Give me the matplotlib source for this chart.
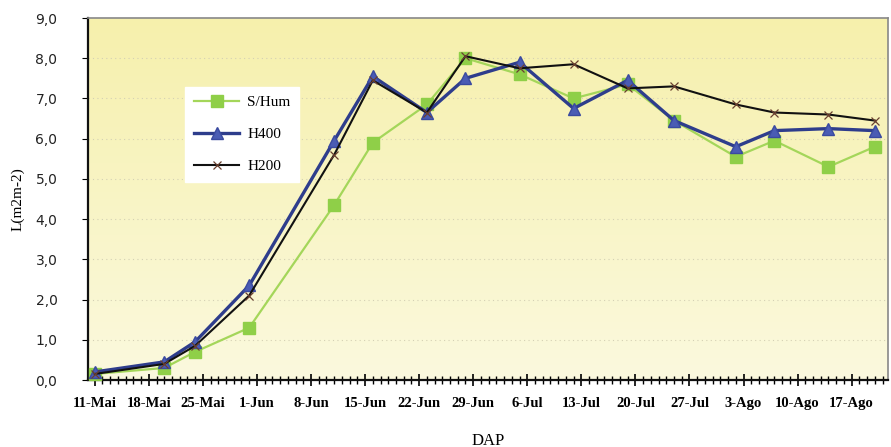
import datetime as dt

import matplotlib
matplotlib.use("Agg")
import matplotlib.pyplot as plt
import matplotlib.dates as mdates
import numpy as np

# datas de amostragem
datas = ["2005-05-11", "2005-05-20", "2005-05-24", "2005-05-31", "2005-06-11",
         "2005-06-16", "2005-06-23", "2005-06-28", "2005-07-05", "2005-07-12",
         "2005-07-19", "2005-07-25", "2005-08-02", "2005-08-07", "2005-08-14",
         "2005-08-20"]

s_hum = [0.15, 0.3, 0.7, 1.3, 4.35, 5.9, 6.85, 8.0, 7.6, 7.0, 7.35, 6.45, 5.55, 5.95, 5.3, 5.8]
h400 = [0.2, 0.45, 0.95, 2.35, 5.95, 7.55, 6.65, 7.5, 7.9, 6.75, 7.45, 6.45, 5.8, 6.2, 6.25, 6.2]
h200 = [0.15, 0.4, 0.85, 2.1, 5.6, 7.45, 6.65, 8.05, 7.75, 7.85, 7.25, 7.3, 6.85, 6.65, 6.6, 6.45]

meses = {5: "Mai", 6: "Jun", 7: "Jul", 8: "Ago"}

x = [dt.datetime.strptime(d, "%Y-%m-%d") for d in datas]

fig = plt.figure(figsize=(8.91, 4.47), dpi=100)
ax = fig.add_axes([88 / 891, 67 / 447, 800 / 891, 362 / 447])

# fundo amarelo em gradiente
grad = np.linspace(0, 1, 256).reshape(-1, 1)
top = np.array([246, 240, 172]) / 255
bot = np.array([251, 249, 222]) / 255
img = top[None, None, :] * (1 - grad[:, :, None]) + bot[None, None, :] * grad[:, :, None]
ax.imshow(img, extent=[0, 1, 0, 1], transform=ax.transAxes, aspect="auto", zorder=0)

for yv in range(1, 9):
    ax.axhline(yv, color="#d4d0b4", linestyle=(0, (1, 3)), linewidth=0.8, zorder=1)

ax.plot(x, s_hum, color="#a4d65a", linewidth=1.6, marker="s", markersize=8,
        markerfacecolor="#8fcf48", markeredgecolor="#8fcf48", label="S/Hum", zorder=3,
        clip_on=False)
ax.plot(x, h400, color="#2e3d8c", linewidth=2.4, marker="^", markersize=8,
        markerfacecolor="#4a5cb4", markeredgecolor="#3a4aa0", label="H400", zorder=4,
        clip_on=False)
ax.plot(x, h200, color="#111111", linewidth=1.5, marker="x", markersize=6,
        markeredgecolor="#6a4030", markeredgewidth=0.9, label="H200", zorder=5,
        clip_on=False)

ax.set_ylim(0, 9)
ax.set_xlim(dt.datetime(2005, 5, 10, 3), dt.datetime(2005, 8, 21, 17))
ax.set_yticks(np.arange(0, 9.1, 1))
ax.set_yticklabels([f"{v:.1f}".replace(".", ",") for v in np.arange(0, 9.1, 1)])

ticks = [dt.datetime(2005, 5, 11) + dt.timedelta(days=7 * i) for i in range(15)]
ax.set_xticks(ticks)
ax.set_xticklabels([f"{t.day}-{meses[t.month]}" for t in ticks])
ax.xaxis.set_minor_locator(mdates.DayLocator())

ax.tick_params(axis="x", which="major", direction="inout", length=9, width=1.2,
               pad=8, labelsize=10.5)
ax.tick_params(axis="x", which="minor", direction="inout", length=6, width=1.0)
ax.tick_params(axis="y", direction="out", length=4, pad=18, labelsize=10)
for lab in ax.get_xticklabels():
    lab.set_family("Liberation Serif")
    lab.set_fontweight("bold")
for lab in ax.get_yticklabels():
    lab.set_family("DejaVu Sans")
    lab.set_color("#222222")

for side in ("left", "bottom"):
    ax.spines[side].set_linewidth(1.6)
    ax.spines[side].set_color("#111111")
for side in ("top", "right"):
    ax.spines[side].set_linewidth(1.2)
    ax.spines[side].set_color("#888888")

ax.set_ylabel("L(m2m-2)", family="Liberation Serif", fontsize=11, labelpad=8)
ax.set_xlabel("DAP", family="Liberation Serif", fontsize=12, labelpad=16)

leg = ax.legend(loc="upper left", bbox_to_anchor=(0.112, 0.83), frameon=True,
                fancybox=False, handlelength=3.0, handletextpad=0.5,
                labelspacing=1.2, borderpad=0.55,
                prop={"family": "Liberation Serif", "size": 11})
leg.get_frame().set_facecolor("white")
leg.get_frame().set_edgecolor("white")
leg.get_frame().set_alpha(1)

fig.savefig("out.png", dpi=100)
